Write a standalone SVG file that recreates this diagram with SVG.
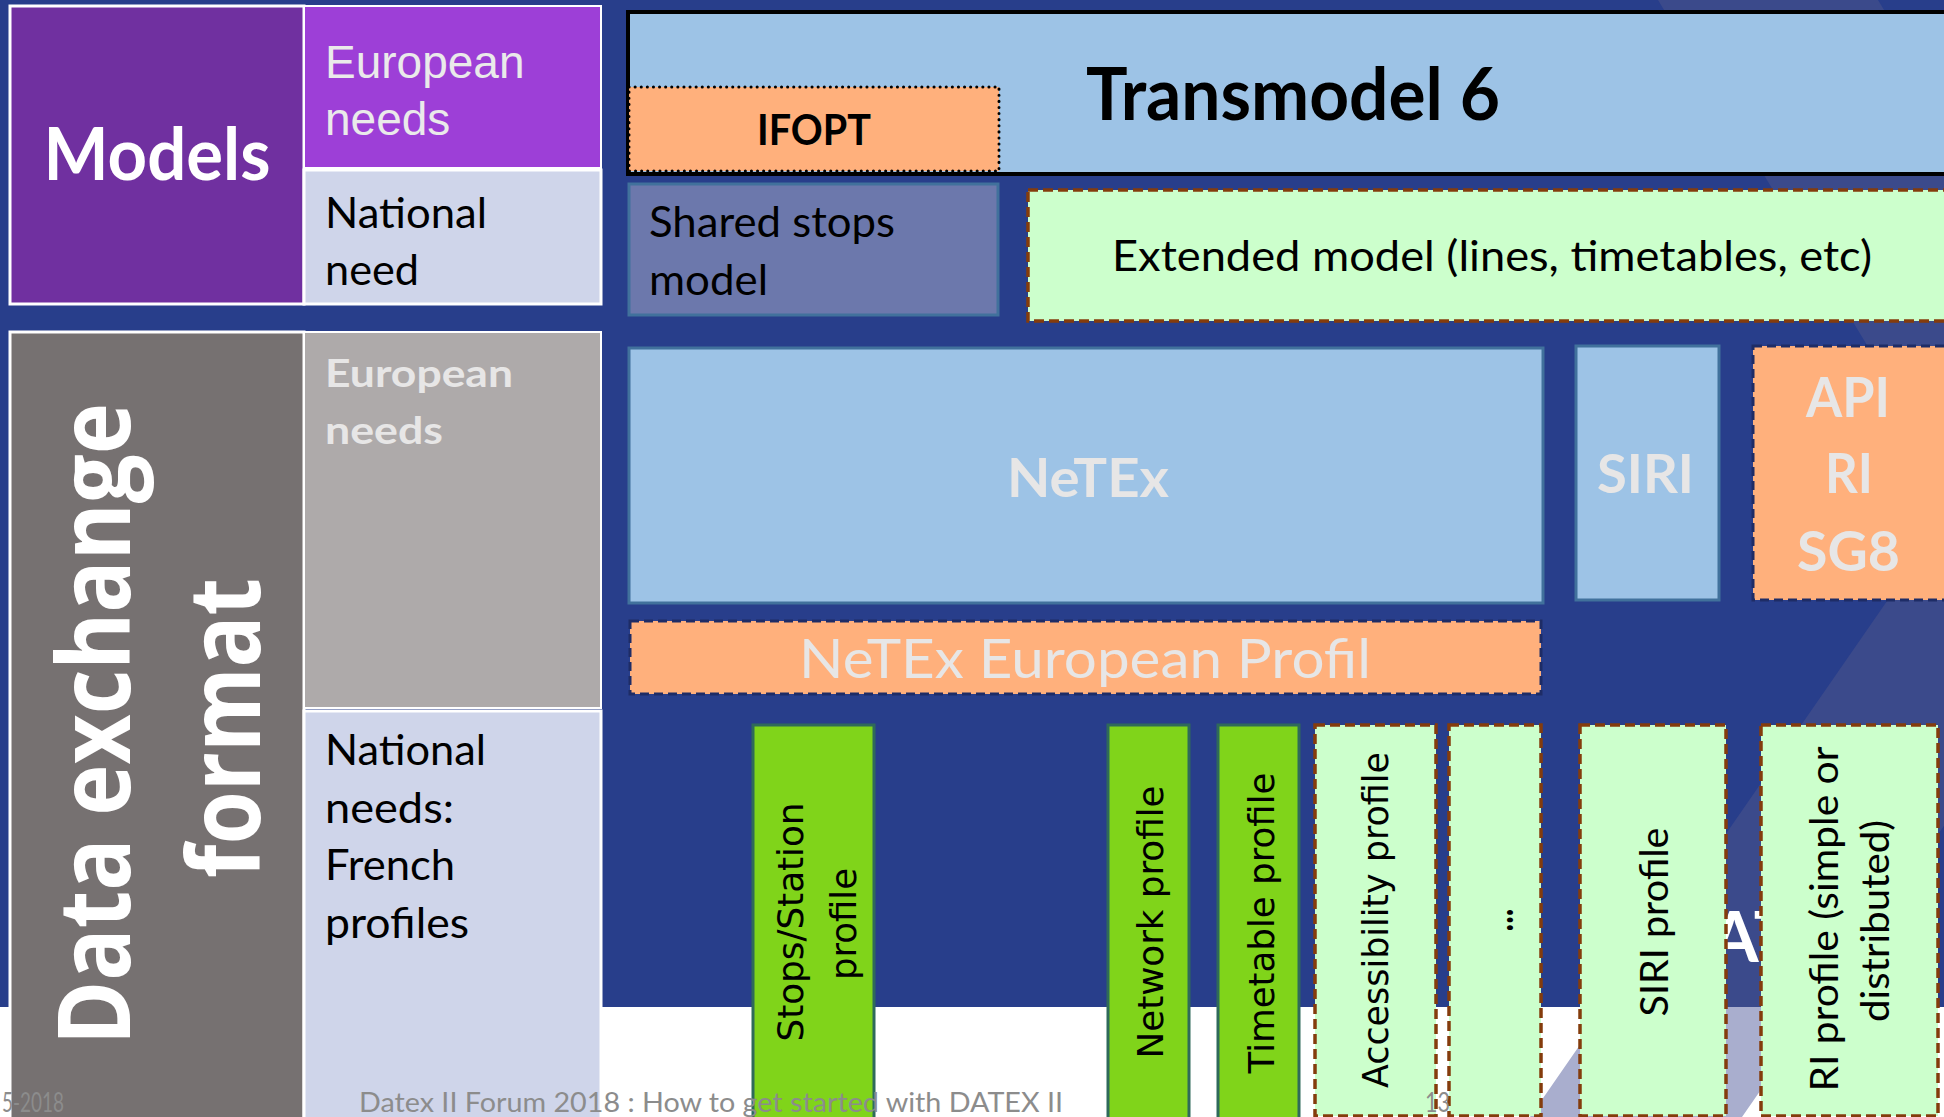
<svg xmlns="http://www.w3.org/2000/svg" width="1944" height="1117" viewBox="0 0 1944 1117">
<defs>
<style>
.cal{font-family:Lato,"Open Sans","Liberation Sans",sans-serif}
.arl{font-family:"Liberation Sans",Arial,sans-serif}
.ver{font-family:"DejaVu Sans",Verdana,sans-serif}
.osb{font-family:"Open Sans","DejaVu Sans",sans-serif;font-weight:bold}
.b{font-weight:bold}
.blk{fill:#000}
.lt{fill:#E7E6E6}
.wb{stroke:#FFFFFF;stroke-width:3}
.lblue{fill:#9DC3E6;stroke:#41719C;stroke-width:3}
.orange{fill:#FFB07C}
.navydash{stroke:#1E2C66;stroke-width:3;stroke-dasharray:9 5}
.lgreen{fill:#CCFFCC;stroke:#843C0C;stroke-width:3.5;stroke-dasharray:10 5}
.bgreen{fill:#80D41A;stroke:#2F6A5A;stroke-width:3}
.foot{fill:#8C8C8C;font-family:Lato,"Liberation Sans",sans-serif;font-size:27px}
</style>
<clipPath id="topClip"><rect x="0" y="0" width="1944" height="1007"/></clipPath>
<clipPath id="botClip"><rect x="0" y="1007" width="1944" height="110"/></clipPath>
</defs>

<!-- background -->
<rect x="0" y="0" width="1944" height="1117" fill="#FFFFFF"/>
<rect x="0" y="0" width="1944" height="1007" fill="#283E8B"/>
<polygon points="1658,0 1878,0 2176,491 1742,1117 1530,1117 1959,497" fill="#3B4A8B" clip-path="url(#topClip)"/>
<polygon points="1658,0 1878,0 2176,491 1742,1117 1530,1117 1959,497" fill="#A9AECE" clip-path="url(#botClip)"/>
<text x="1710" y="962" class="cal b" font-size="70" fill="#FFFFFF">AT</text>

<g id="connectors"/>

<!-- Models group -->
<g id="models">
<rect x="10" y="6" width="294" height="298" fill="#7030A0" class="wb"/>
<text x="157" y="180" class="cal b" font-size="72" fill="#FFFFFF" text-anchor="middle" textLength="227" lengthAdjust="spacingAndGlyphs">Models</text>
</g>
<g id="models-european-needs">
<rect x="304" y="6" width="297" height="162" fill="#9D3FD7" stroke="#FFFFFF" stroke-width="2"/>
<text class="arl" font-size="46" fill="#EAEAEA"><tspan x="325" y="78">European</tspan><tspan x="325" y="135">needs</tspan></text>
</g>
<g id="models-national-need">
<rect x="304" y="170" width="297" height="134" fill="#CFD5EA" class="wb"/>
<text x="325" y="228" class="cal blk" font-size="42" textLength="162" lengthAdjust="spacingAndGlyphs">National</text>
<text x="325" y="285" class="cal blk" font-size="42" textLength="94" lengthAdjust="spacingAndGlyphs">need</text>
</g>

<!-- Data exchange format group -->
<g id="data-exchange-format">
<rect x="10" y="332" width="294" height="800" fill="#767171" class="wb"/>
<text transform="translate(130,724) rotate(-90)" class="osb" font-size="100" fill="#FFFFFF" text-anchor="middle" textLength="642" lengthAdjust="spacingAndGlyphs">Data exchange</text>
<text transform="translate(260,728) rotate(-90)" class="osb" font-size="100" fill="#FFFFFF" text-anchor="middle" textLength="300" lengthAdjust="spacingAndGlyphs">format</text>
</g>
<g id="dx-european-needs">
<rect x="304" y="332" width="297" height="376" fill="#AEAAAA" stroke="#FFFFFF" stroke-width="2"/>
<text x="325" y="387" class="cal b lt" font-size="38" textLength="188" lengthAdjust="spacingAndGlyphs">European</text>
<text x="325" y="444" class="cal b lt" font-size="38" textLength="118" lengthAdjust="spacingAndGlyphs">needs</text>
</g>
<g id="dx-national-needs">
<rect x="304" y="711" width="297" height="420" fill="#CFD5EA" class="wb"/>
<text x="325" y="765" class="cal blk" font-size="42" textLength="161" lengthAdjust="spacingAndGlyphs">National</text>
<text x="325" y="823" class="cal blk" font-size="42" textLength="129" lengthAdjust="spacingAndGlyphs">needs:</text>
<text x="325" y="880" class="cal blk" font-size="42" textLength="130" lengthAdjust="spacingAndGlyphs">French</text>
<text x="325" y="938" class="cal blk" font-size="42" textLength="144" lengthAdjust="spacingAndGlyphs">profiles</text>
</g>

<!-- Transmodel -->
<g id="transmodel6">
<rect x="628" y="12" width="1340" height="162" fill="#9DC3E6" stroke="#000000" stroke-width="4"/>
<text x="1086" y="120" class="cal b blk" font-size="72" textLength="414" lengthAdjust="spacingAndGlyphs">Transmodel 6</text>
</g>
<g id="ifopt">
<rect x="629" y="87" width="370" height="84" class="orange" stroke="#000000" stroke-width="3" stroke-dasharray="0.1 6" stroke-linecap="round"/>
<text x="757" y="145" class="cal b blk" font-size="42" textLength="114" lengthAdjust="spacingAndGlyphs">IFOPT</text>
</g>
<g id="shared-stops">
<rect x="629" y="184" width="369" height="131" fill="#6C78AC" stroke="#41719C" stroke-width="3"/>
<text x="649" y="237" class="cal blk" font-size="42" textLength="246" lengthAdjust="spacingAndGlyphs">Shared stops</text>
<text x="649" y="295" class="cal blk" font-size="42" textLength="119" lengthAdjust="spacingAndGlyphs">model</text>
</g>
<g id="extended-model">
<rect x="1028" y="190" width="940" height="131" class="lgreen"/>
<text x="1112" y="271" class="cal blk" font-size="42" textLength="760" lengthAdjust="spacingAndGlyphs">Extended model (lines, timetables, etc)</text>
</g>

<!-- Exchange formats -->
<g id="netex">
<rect x="629" y="348" width="914" height="255" class="lblue"/>
<text x="1007" y="497" class="cal b lt" font-size="54" textLength="162" lengthAdjust="spacingAndGlyphs">NeTEx</text>
</g>
<g id="siri">
<rect x="1576" y="346" width="143" height="254" class="lblue"/>
<text x="1597" y="493" class="cal b lt" font-size="54" textLength="97" lengthAdjust="spacingAndGlyphs">SIRI</text>
</g>
<g id="api-ri-sg8">
<rect x="1753" y="346" width="210" height="254" class="orange navydash"/>
<text x="1806" y="417" class="cal b lt" font-size="55" textLength="84" lengthAdjust="spacingAndGlyphs">API</text>
<text x="1825" y="493" class="cal b lt" font-size="55" textLength="48" lengthAdjust="spacingAndGlyphs">RI</text>
<text x="1797" y="571" class="cal b lt" font-size="55" textLength="103" lengthAdjust="spacingAndGlyphs">SG8</text>
</g>
<g id="netex-european-profil">
<rect x="630" y="621" width="911" height="73" class="orange navydash"/>
<text x="799" y="678" class="cal lt" font-size="54" textLength="572" lengthAdjust="spacingAndGlyphs">NeTEx European Profil</text>
</g>

<!-- Profiles -->
<g id="stops-station-profile">
<rect x="753" y="725" width="121" height="420" class="bgreen"/>
<text transform="translate(803,922) rotate(-90)" class="ver blk" font-size="36" text-anchor="middle" textLength="239" lengthAdjust="spacingAndGlyphs">Stops/Station</text>
<text transform="translate(856,924) rotate(-90)" class="ver blk" font-size="36" text-anchor="middle" textLength="112" lengthAdjust="spacingAndGlyphs">profile</text>
</g>
<g id="network-profile">
<rect x="1108" y="725" width="81" height="420" class="bgreen"/>
<text transform="translate(1163,922) rotate(-90)" class="ver blk" font-size="36" text-anchor="middle" textLength="273" lengthAdjust="spacingAndGlyphs">Network profile</text>
</g>
<g id="timetable-profile">
<rect x="1218" y="725" width="81" height="420" class="bgreen"/>
<text transform="translate(1274,923) rotate(-90)" class="ver blk" font-size="36" text-anchor="middle" textLength="301" lengthAdjust="spacingAndGlyphs">Timetable profile</text>
</g>
<g id="accessibility-profile">
<rect x="1315" y="725" width="121" height="391" class="lgreen"/>
<text transform="translate(1388,920) rotate(-90)" class="ver blk" font-size="35" text-anchor="middle" textLength="336" lengthAdjust="spacingAndGlyphs">Accessibility profile</text>
</g>
<g id="more-profiles">
<rect x="1449" y="725" width="92" height="391" class="lgreen"/>
<text transform="translate(1513,920) rotate(-90)" class="cal b blk" font-size="40" text-anchor="middle" textLength="23" lengthAdjust="spacingAndGlyphs">...</text>
</g>
<g id="siri-profile">
<rect x="1580" y="725" width="146" height="391" class="lgreen"/>
<text transform="translate(1668,922) rotate(-90)" class="cal blk" font-size="39" text-anchor="middle" textLength="189" lengthAdjust="spacingAndGlyphs">SIRI profile</text>
</g>
<g id="ri-profile">
<rect x="1761" y="725" width="177" height="391" class="lgreen"/>
<text transform="translate(1838,919) rotate(-90)" class="cal blk" font-size="38" text-anchor="middle" textLength="345" lengthAdjust="spacingAndGlyphs">RI profile (simple or</text>
<text transform="translate(1889,921) rotate(-90)" class="cal blk" font-size="38" text-anchor="middle" textLength="202" lengthAdjust="spacingAndGlyphs">distributed)</text>
</g>

<!-- footer -->
<g id="footer">
<text x="2" y="1112" class="foot" textLength="62" lengthAdjust="spacingAndGlyphs">5-2018</text>
<text x="359" y="1112" class="foot" textLength="704" lengthAdjust="spacingAndGlyphs">Datex II Forum 2018 : How to get started with DATEX II</text>
<text x="1425" y="1112" class="foot" textLength="25" lengthAdjust="spacingAndGlyphs">13</text>
</g>
</svg>
